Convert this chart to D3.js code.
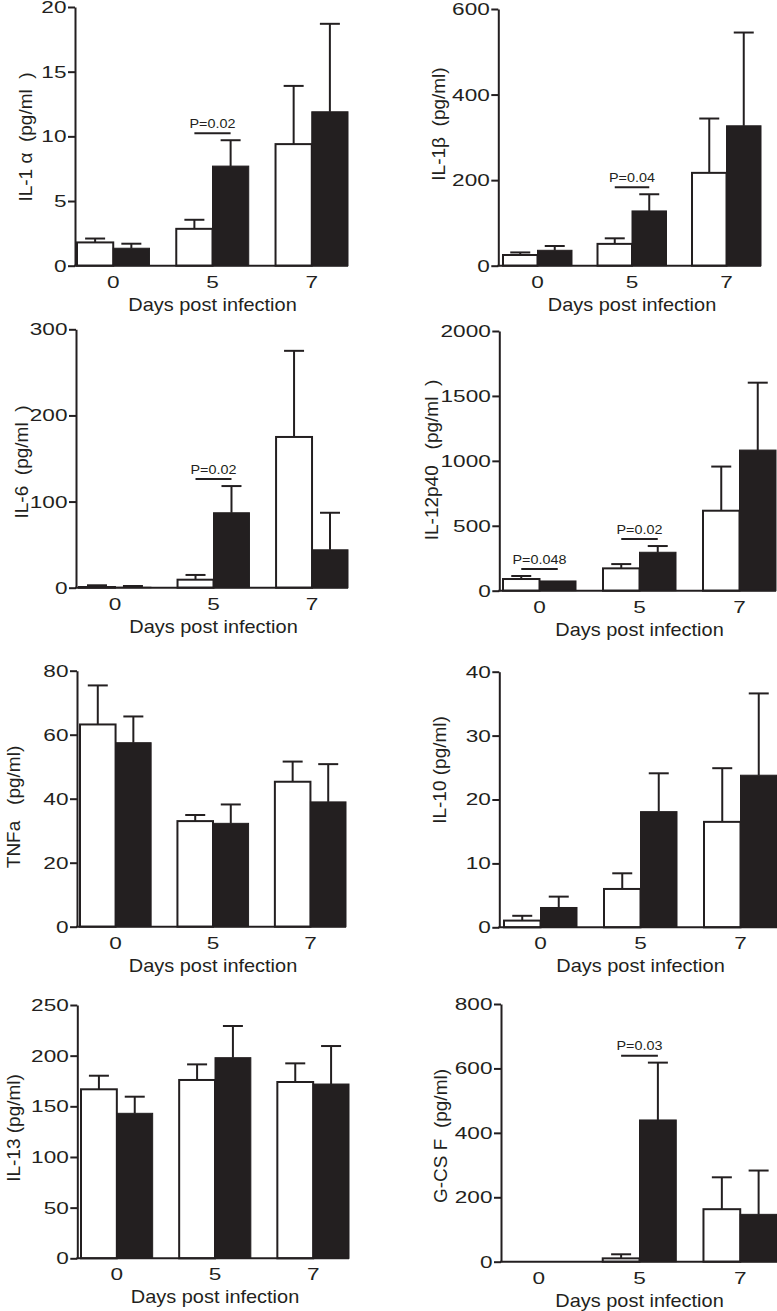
<!DOCTYPE html>
<html><head><meta charset="utf-8">
<script src="https://cdn.jsdelivr.net/npm/d3@7"></script>
<style>
html,body{margin:0;padding:0;background:#fff;}
svg{display:block;font-family:"Liberation Sans",Arial,Helvetica,sans-serif;}
</style></head><body>
<svg id="chart" width="777" height="1311"></svg>
<script>
// ---------- DATA ----------
const days = ["0", "5", "7"];
const xAxisTitle = "Days post infection";
const yTitles = ["IL-1 α  (pg/ml  )", "IL-1β  (pg/ml)", "IL-6  (pg/ml  )", "IL-12p40   (pg/ml  )",
                 "TNFa   (pg/ml)", "IL-10 (pg/ml)", "IL-13 (pg/ml)", "G-CS F  (pg/ml)"];
const yMaxes = [20, 600, 300, 2000, 80, 40, 250, 800];
const yTicks = [[0,5,10,15,20],[0,200,400,600],[0,100,200,300],[0,500,1000,1500,2000],
                [0,20,40,60,80],[0,10,20,30,40],[0,50,100,150,200,250],[0,200,400,600,800]];

// open (white) bars: mean and mean+SEM; filled (black) bars: mean and mean+SEM
const il1aOpen = [1.8, 2.85, 9.4],     il1aOpenUpper = [2.1, 3.55, 13.9];
const il1aFilled = [1.35, 7.7, 11.9],  il1aFilledUpper = [1.7, 9.7, 18.7];
const il1bOpen = [25, 51, 217],        il1bOpenUpper = [31, 64, 344];
const il1bFilled = [36, 128, 327],     il1bFilledUpper = [46, 167, 545];
const il6Open = [0.8, 9.3, 175],       il6OpenUpper = [2.8, 14.8, 275];
const il6Filled = [0.5, 87, 44],       il6FilledUpper = [2, 118, 87];
const il12Open = [90, 172, 616],       il12OpenUpper = [113, 205, 956];
const il12Filled = [75, 296, 1083],    il12FilledUpper = [null, 344, 1602];
const tnfOpen = [63.2, 33, 45.3],      tnfOpenUpper = [75.4, 34.9, 51.6];
const tnfFilled = [57.5, 32.3, 39],    tnfFilledUpper = [65.7, 38.2, 50.8];
const il10Open = [1.05, 6.0, 16.5],    il10OpenUpper = [1.8, 8.45, 24.9];
const il10Filled = [3.1, 18.1, 23.8],  il10FilledUpper = [4.8, 24.1, 36.6];
const il13Open = [166.8, 176, 174],    il13OpenUpper = [180.2, 191.4, 192.4];
const il13Filled = [143.1, 198, 172],  il13FilledUpper = [159.5, 229.3, 209.5];
const gcsfOpen = [0, 10.4, 163],       gcsfOpenUpper = [null, 23, 262];
const gcsfFilled = [0, 440, 147],      gcsfFilledUpper = [null, 618, 283];

const openSeries = [il1aOpen, il1bOpen, il6Open, il12Open, tnfOpen, il10Open, il13Open, gcsfOpen];
const openUpper = [il1aOpenUpper, il1bOpenUpper, il6OpenUpper, il12OpenUpper, tnfOpenUpper, il10OpenUpper, il13OpenUpper, gcsfOpenUpper];
const filledSeries = [il1aFilled, il1bFilled, il6Filled, il12Filled, tnfFilled, il10Filled, il13Filled, gcsfFilled];
const filledUpper = [il1aFilledUpper, il1bFilledUpper, il6FilledUpper, il12FilledUpper, tnfFilledUpper, il10FilledUpper, il13FilledUpper, gcsfFilledUpper];

const pPanels = [0, 1, 2, 3, 3, 7];
const pDays = ["5", "5", "5", "0", "5", "5"];
const pLabels = ["P=0.02", "P=0.04", "P=0.02", "P=0.048", "P=0.02", "P=0.03"];

// ---------- LAYOUT (pixel frames of each panel) ----------
const layout = [
  {axisX:75,    top:7,     bottom:265.7,  left:77,  right:348, titleX:32,  titleY:137},
  {axisX:498.3, top:9,     bottom:265.7,  left:503, right:761, titleX:445, titleY:124},
  {axisX:76,    top:329.3, bottom:587.7,  left:79,  right:348, titleX:28,  titleY:462},
  {axisX:499.3, top:331,   bottom:590.7,  left:503, right:776, titleX:438, titleY:460},
  {axisX:77,    top:670.7, bottom:926.7,  left:80,  right:346, titleX:20,  titleY:807},
  {axisX:499.3, top:671.7, bottom:927.3,  left:504, right:777, titleX:446, titleY:770},
  {axisX:77.3,  top:1005,  bottom:1258.3, left:81,  right:349, titleX:20,  titleY:1128},
  {axisX:501,   top:1004,  bottom:1261.7, left:502, right:777, titleX:447, titleY:1136}
];

const ink = "#231f20";
const svg = d3.select("#chart");
const capW = 20;

layout.forEach((L, i) => {
  const g = svg.append("g");
  const y = d3.scaleLinear().domain([0, yMaxes[i]]).range([L.bottom, L.top]);
  const x = d3.scaleBand().domain(days).range([L.left, L.right]).paddingInner(0.27).paddingOuter(0);
  const xs = d3.scaleBand().domain([0, 1]).range([0, x.bandwidth()]);

  const rows = [];
  days.forEach((d, j) => {
    rows.push({day: d, s: 0, v: openSeries[i][j], u: openUpper[i][j]});
    rows.push({day: d, s: 1, v: filledSeries[i][j], u: filledUpper[i][j]});
  });

  // error bars (upward only)
  const eb = rows.filter(r => r.u != null && r.v > 0);
  g.selectAll(".ev").data(eb).join("line")
    .attr("x1", r => x(r.day) + xs(r.s) + xs.bandwidth()/2)
    .attr("x2", r => x(r.day) + xs(r.s) + xs.bandwidth()/2)
    .attr("y1", r => y(r.v)).attr("y2", r => y(r.u))
    .attr("stroke", ink).attr("stroke-width", 2);
  g.selectAll(".ec").data(eb).join("line")
    .attr("x1", r => x(r.day) + xs(r.s) + xs.bandwidth()/2 - capW/2)
    .attr("x2", r => x(r.day) + xs(r.s) + xs.bandwidth()/2 + capW/2)
    .attr("y1", r => y(r.u)).attr("y2", r => y(r.u))
    .attr("stroke", ink).attr("stroke-width", 2);

  // bars
  g.selectAll(".bar").data(rows.filter(r => r.v > 0)).join("rect")
    .attr("x", r => x(r.day) + xs(r.s))
    .attr("width", xs.bandwidth())
    .attr("y", r => y(r.v))
    .attr("height", r => y(0) - y(r.v))
    .attr("fill", r => r.s === 0 ? "#fff" : ink)
    .attr("stroke", ink).attr("stroke-width", r => r.s === 0 ? 2 : 1);

  // y axis
  const ya = g.append("g").attr("transform", `translate(${L.axisX},0)`)
    .call(d3.axisLeft(y).tickValues(yTicks[i]).tickSize(7).tickSizeOuter(0).tickFormat(d3.format("d")));
  ya.select(".domain").attr("stroke", ink).attr("stroke-width", 2);
  ya.selectAll(".tick line").attr("stroke", ink).attr("stroke-width", 2);
  ya.selectAll(".tick text").attr("fill", ink).attr("font-size", 17)
    .attr("font-family", null)
    .attr("x", -8.5 / 1.33).attr("transform", "scale(1.33,1)");

  // x axis
  g.append("line").attr("x1", L.axisX - 1).attr("x2", x.range()[1])
    .attr("y1", y(0)).attr("y2", y(0)).attr("stroke", ink).attr("stroke-width", 2);
  const xa = g.append("g").attr("transform", `translate(0,${y(0)})`)
    .call(d3.axisBottom(x).tickSize(0).tickSizeOuter(0));
  xa.select(".domain").remove();
  xa.selectAll(".tick text").attr("fill", ink).attr("font-size", 17).attr("font-family", null)
    .attr("y", 22).attr("dy", 0).attr("transform", "scale(1.33,1)")
    .attr("x", 0);
  // keep tick label centered under the group after scaling
  xa.selectAll(".tick").each(function() {
    const t = d3.select(this).select("text");
    const tx = +d3.select(this).attr("transform").match(/translate\(([-\d.]+)/)[1];
  });

  // x title
  g.append("text").attr("text-anchor", "middle").attr("fill", ink).attr("font-size", 19)
    .attr("transform", `translate(${(x.range()[0] + x.range()[1]) / 2},${y(0) + 45}) scale(1.05,1)`)
    .text(xAxisTitle);

  // y title
  g.append("text").attr("text-anchor", "middle").attr("fill", ink).attr("font-size", 19)
    .style("white-space", "pre")
    .attr("transform", `translate(${L.titleX},${L.titleY}) rotate(-90)`)
    .text(yTitles[i]);

  // p-value annotations
  pPanels.forEach((pi, k) => {
    if (pi !== i) return;
    const d = pDays[k];
    const j = days.indexOf(d);
    const top = d3.max([openUpper[i][j] ?? openSeries[i][j], filledUpper[i][j] ?? filledSeries[i][j]]);
    const ly = y(top) - 7;
    const x1 = x(d) + xs(0) + xs.bandwidth()/2;
    const x2 = x(d) + xs(1) + xs.bandwidth()/2;
    g.append("line").attr("x1", x1).attr("x2", x2).attr("y1", ly).attr("y2", ly)
      .attr("stroke", ink).attr("stroke-width", 2);
    g.append("text").attr("text-anchor", "middle").attr("fill", ink).attr("font-size", 12.5)
      .attr("transform", `translate(${(x1 + x2) / 2},${ly - 5.5}) scale(1.15,1)`)
      .text(pLabels[k]);
  });
});
</script>
</body></html>
